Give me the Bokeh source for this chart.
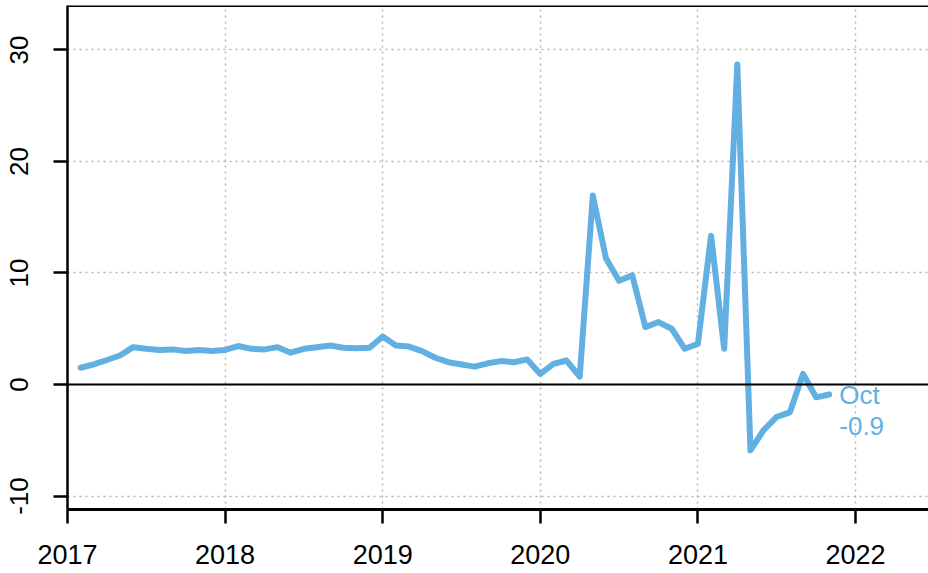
import pandas as pd
from bokeh.plotting import figure
from bokeh.models import Span, Label, FixedTicker, Range1d
from bokeh.embed import file_html
from bokeh.resources import INLINE

# Monthly values, Jan 2017 - Oct 2021
values = [1.5, 1.8, 2.2, 2.6, 3.35, 3.2, 3.1, 3.15, 3.0, 3.1, 3.0, 3.1,
          3.45, 3.2, 3.15, 3.35, 2.85, 3.2, 3.35, 3.5, 3.3, 3.25, 3.3, 4.3,
          3.5, 3.4, 3.0, 2.4, 2.0, 1.8, 1.6, 1.9, 2.1, 2.0, 2.25, 0.95,
          1.85, 2.15, 0.7, 16.95, 11.3, 9.3, 9.8, 5.15, 5.6, 5.0, 3.2, 3.65,
          13.35, 3.2, 28.7, -5.9, -4.1, -2.9, -2.5, 0.95, -1.15, -0.9]
dates = pd.date_range("2017-01-01", periods=len(values), freq="MS")
x_years = [d.year + d.month / 12 for d in dates]

x_ticks = [2017, 2018, 2019, 2020, 2021, 2022]
y_ticks = [-10, 0, 10, 20, 30]
y_tick_labels = ["-10", "0", "10", "20", "30"]
last_label = "Oct"
last_value_label = "-0.9"

BLUE = "#62B0E2"
FONT = "Liberation Sans"

y_end = 33.99
p = figure(width=928, height=573, output_backend="svg", toolbar_location=None,
           x_range=Range1d(2017, 2022.463), y_range=Range1d(-11.21, y_end),
           min_border_left=67, min_border_right=0, min_border_top=5,
           min_border_bottom=64)
p.outline_line_color = None
p.background_fill_color = "white"
p.border_fill_color = "white"

for ax in (p.xaxis[0], p.yaxis[0]):
    ax.axis_line_width = 2.5
    ax.axis_line_color = "black"
    ax.major_tick_line_width = 2.5
    ax.major_tick_line_color = "black"
    ax.minor_tick_line_color = None
    ax.major_tick_in = 0
    ax.major_label_text_font = FONT
    ax.major_label_text_color = "black"

p.xaxis[0].axis_line_width = 3
p.xaxis[0].ticker = FixedTicker(ticks=x_ticks)
p.xaxis[0].major_tick_out = 14
p.xaxis[0].major_label_standoff = 21
p.xaxis[0].major_label_text_font_size = "27px"

p.yaxis[0].ticker = FixedTicker(ticks=y_ticks)
p.yaxis[0].major_label_overrides = {t: s for t, s in zip(y_ticks, y_tick_labels)}
p.yaxis[0].major_tick_out = 14
p.yaxis[0].major_label_standoff = 25
p.yaxis[0].major_label_text_font_size = "26px"
p.yaxis[0].major_label_orientation = "vertical"

p.xgrid.ticker = FixedTicker(ticks=x_ticks)
p.ygrid.ticker = FixedTicker(ticks=y_ticks)
for g in (p.xgrid[0], p.ygrid[0]):
    g.grid_line_color = "#B4B4B4"
    g.grid_line_width = 1.5
    g.grid_line_dash = "2 4"

p.add_layout(Span(location=0, dimension="width", line_color="black", line_width=2))
p.add_layout(Span(location=y_end, dimension="width", line_color="black", line_width=3))

p.line(x_years, values, line_color=BLUE, line_width=6, line_join="round", line_cap="round")

p.add_layout(Label(x=x_years[-1], y=values[-1], text=last_label, x_offset=10,
                   text_baseline="middle", text_color=BLUE, text_font=FONT,
                   text_font_size="26px"))
p.add_layout(Label(x=x_years[-1], y=values[-1], text=last_value_label, x_offset=10,
                   y_offset=-31, text_baseline="middle", text_color=BLUE,
                   text_font=FONT, text_font_size="26px"))

open("out.html", "w").write(file_html(p, INLINE))
